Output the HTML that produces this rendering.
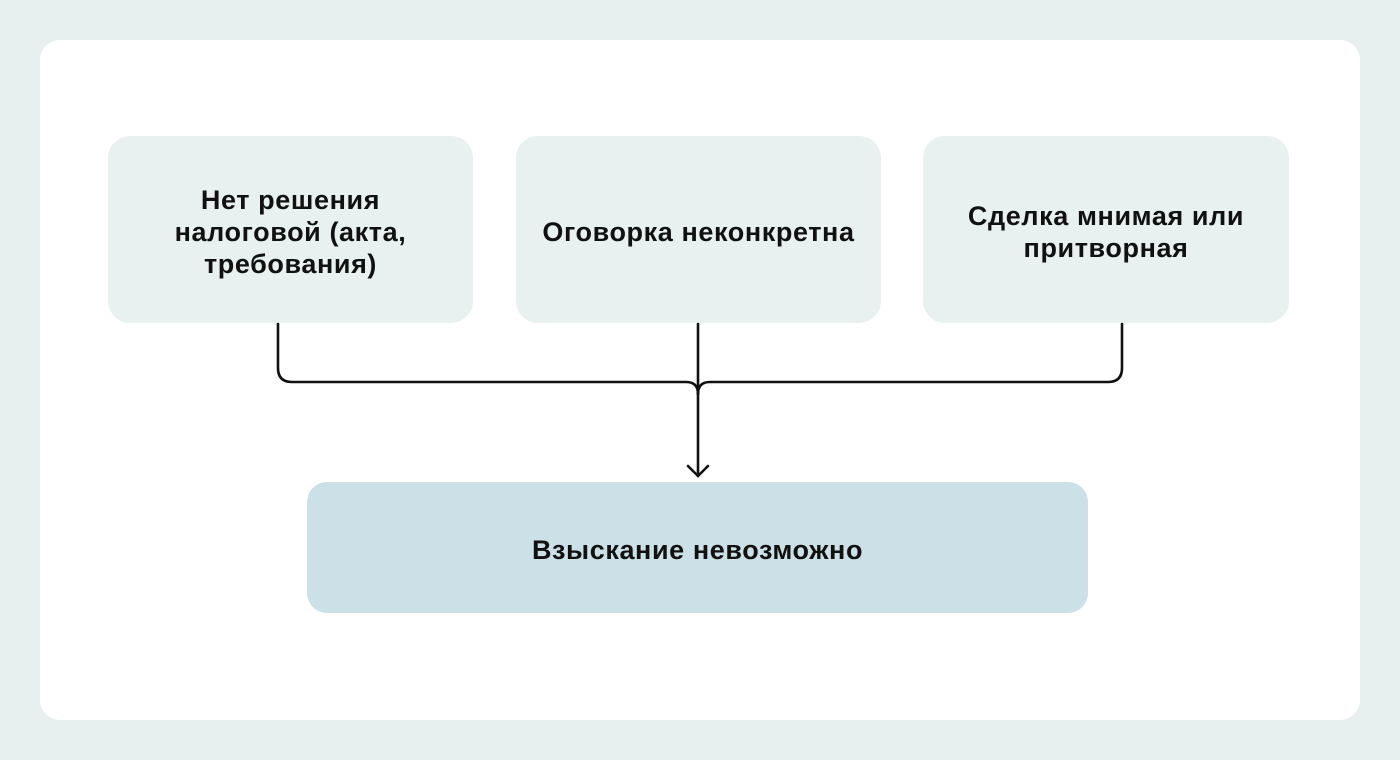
<!DOCTYPE html>
<html>
<head>
<meta charset="utf-8">
<style>
  html, body { margin:0; padding:0; }
  body { width:1400px; height:760px; background:#e8f0ef; position:relative; overflow:hidden;
    font-family:"Liberation Sans", "DejaVu Sans", sans-serif; }
  .card { position:absolute; left:40px; top:40px; width:1320px; height:680px; background:#ffffff; border-radius:20px; }
  .box { position:absolute; display:flex; align-items:center; justify-content:center; text-align:center;
    background:#e8f0f0; border-radius:22px; color:#111; font-weight:bold; font-size:27px; line-height:32px; letter-spacing:0.6px; }
  .b1 { left:108px; top:136px; width:365px; height:187px; }
  .b2 { left:516px; top:136px; width:365px; height:187px; }
  .b3 { left:923px; top:136px; width:366px; height:187px; }
  .b4 { left:307px; top:482px; width:781px; height:131px; background:#cce0e7; border-radius:20px; }
  .box span { display:block; padding-top:4px; white-space:nowrap; }
  svg { position:absolute; left:0; top:0; }
</style>
</head>
<body>
<div class="card"></div>
<div class="box b1"><span>Нет решения<br>налоговой (акта,<br>требования)</span></div>
<div class="box b2"><span>Оговорка неконкретна</span></div>
<div class="box b3"><span>Сделка мнимая или<br>притворная</span></div>
<div class="box b4"><span>Взыскание невозможно</span></div>
<svg width="1400" height="760" viewBox="0 0 1400 760">
  <g fill="none" stroke="#111" stroke-width="2.6" stroke-linecap="round" stroke-linejoin="round">
    <path d="M278 324 V368 Q278 382 292 382 H686 Q698 382 698 394"/>
    <path d="M1122 324 V368 Q1122 382 1108 382 H710 Q698 382 698 394"/>
    <path d="M698 324 V476"/>
    <path d="M688 466 L698 476 L708 466"/>
  </g>
</svg>
</body>
</html>
